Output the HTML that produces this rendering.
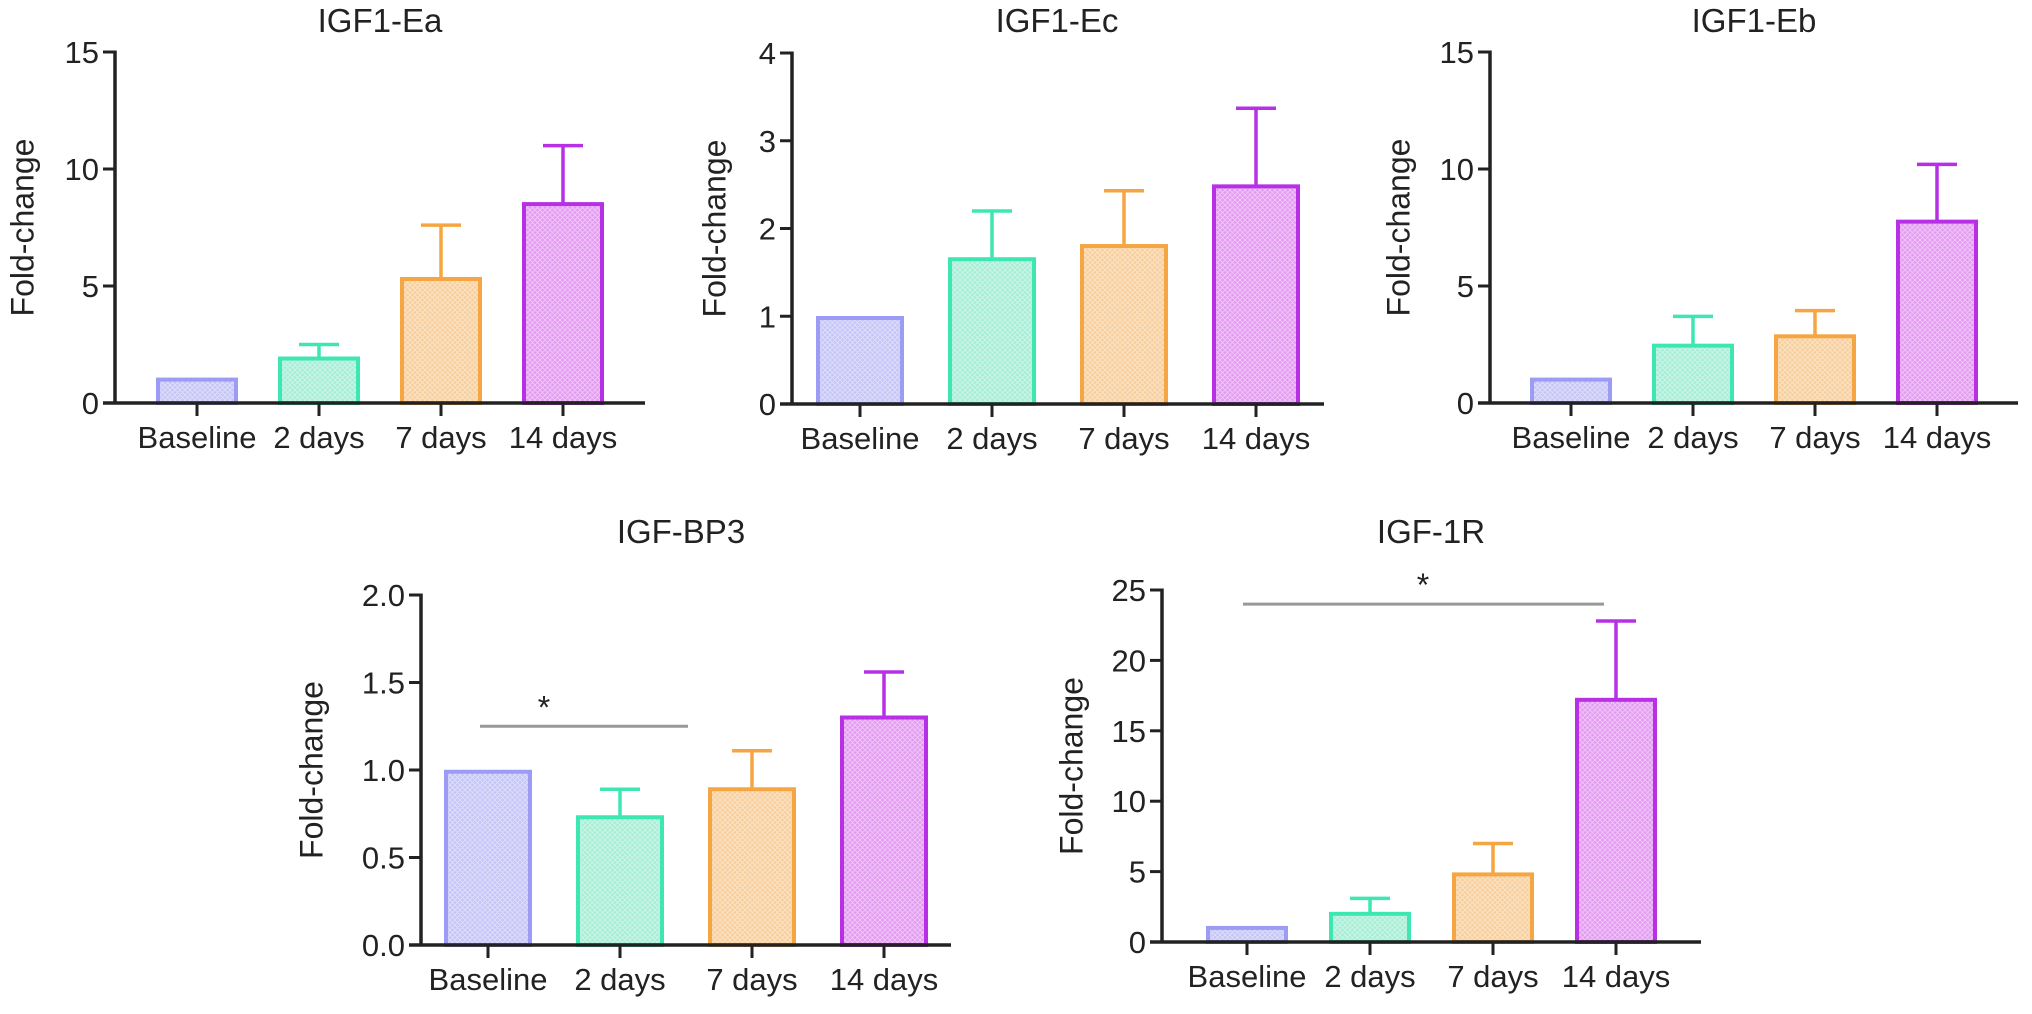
<!DOCTYPE html>
<html><head><meta charset="utf-8">
<style>
html,body{margin:0;padding:0;background:#fff;}
svg{display:block;}
text{font-family:"Liberation Sans",Arial,sans-serif;fill:#222;}
</style></head>
<body>
<svg id="fig" width="2032" height="1014" viewBox="0 0 2032 1014" xmlns="http://www.w3.org/2000/svg">
<defs>
<pattern id="hatch" width="5" height="5" patternUnits="userSpaceOnUse">
<path d="M0 0 L5 5 M5 0 L0 5" stroke="#fff" stroke-width="0.8" stroke-opacity="0.45"/>
</pattern>
</defs>
</svg>
<script>
const categories = ["Baseline","2 days","7 days","14 days"];
const strokeColors = ["#9c9cf4","#3ee6b2","#f5a642","#b730e6"];
const fillColors = ["#c5c6f7","#a6eed5","#f8cf9c","#e39cf1"];

const eaValues = [1.0, 1.9, 5.3, 8.5];
const eaErrTop = [1.0, 2.5, 7.6, 11.0];
const eaTicks = [0,5,10,15];

const ecValues = [0.98, 1.65, 1.8, 2.48];
const ecErrTop = [0.98, 2.2, 2.43, 3.37];
const ecTicks = [0,1,2,3,4];

const ebValues = [1.0, 2.45, 2.85, 7.75];
const ebErrTop = [1.0, 3.7, 3.95, 10.2];
const ebTicks = [0,5,10,15];

const bp3Values = [0.99, 0.73, 0.89, 1.3];
const bp3ErrTop = [0.99, 0.89, 1.11, 1.56];
const bp3Ticks = [0,0.5,1.0,1.5,2.0];
const bp3TickLabels = ["0.0","0.5","1.0","1.5","2.0"];

const r1Values = [1.0, 2.0, 4.8, 17.2];
const r1ErrTop = [1.0, 3.1, 7.0, 22.8];
const r1Ticks = [0,5,10,15,20,25];

const svg = document.getElementById('fig');
const NS = "http://www.w3.org/2000/svg";
function mk(tag, attrs, parent){
  const e = document.createElementNS(NS, tag);
  for (const k in attrs) e.setAttribute(k, attrs[k]);
  (parent||svg).appendChild(e);
  return e;
}

function drawChart(cfg){
  const g = mk('g', {});
  
  
  const ymax = cfg.ticks[cfg.ticks.length-1];
  const yS = v => cfg.y0 - (v/ymax)*(cfg.y0-cfg.yTop);
  const xS = i => cfg.firstC + i*cfg.step;
  const axEnd = xS(categories.length-1) + (cfg.firstC - cfg.ax);

  const t = mk('text', {x: cfg.titleX, y: cfg.titleY, 'text-anchor':'middle', 'font-size':33}, g);
  t.textContent = cfg.title;
  
  

  const yl = mk('text', {x: 0, y: 0, 'text-anchor':'middle', 'font-size':32,
    transform: `translate(${cfg.ylabX},${(cfg.y0+cfg.yTop)/2}) rotate(-90)`, 'dominant-baseline':'middle'}, g);
  yl.textContent = 'Fold-change';
  
  

  categories.forEach((c, i) => {
    const cx = xS(i), v = cfg.values[i], top = yS(v);
    const bw = cfg.bw;
    const bar = mk('rect', {x: cx-bw/2, y: top, width: bw, height: cfg.y0-top,
      fill: fillColors[i], stroke: strokeColors[i], 'stroke-width': 4}, g);
    
    
    mk('rect', {x: cx-bw/2+2, y: top+2, width: Math.max(0,bw-4), height: Math.max(0,cfg.y0-top-4), fill:'url(#hatch)'}, g);
    const et = cfg.err[i];
    if (et > v + 1e-9) {
      const eb = mk('path', {d:`M${cx} ${top} V${yS(et)} M${cx-20} ${yS(et)} H${cx+20}`,
        stroke: strokeColors[i], 'stroke-width': 3.5, fill:'none'}, g);
      
      
    }
    mk('line', {x1:cx, x2:cx, y1:cfg.y0, y2:cfg.y0+13, stroke:'#222', 'stroke-width':3}, g);
    const lb = mk('text', {x: cx, y: cfg.y0+45, 'text-anchor':'middle', 'font-size':31}, g);
    lb.textContent = c;
    
    
  });

  const ya = mk('line', {x1:cfg.ax, x2:cfg.ax, y1:cfg.yTop-1.5, y2:cfg.y0+1.5, stroke:'#222', 'stroke-width':3.5}, g);
  
  
  const xa = mk('line', {x1:cfg.ax-12, x2:axEnd, y1:cfg.y0, y2:cfg.y0, stroke:'#222', 'stroke-width':3.5}, g);
  
  
  cfg.ticks.forEach((tv, k) => {
    const y = yS(tv);
    mk('line', {x1:cfg.ax-12, x2:cfg.ax, y1:y, y2:y, stroke:'#222', 'stroke-width':3}, g);
    const tl = mk('text', {x: cfg.ax-16, y: y+11, 'text-anchor':'end', 'font-size':31}, g);
    tl.textContent = cfg.tickLabels ? cfg.tickLabels[k] : String(tv);
    
    
  });

  if (cfg.sig) {
    const s = cfg.sig;
    const ln = mk('line', {x1:xS(s.from)-s.padL, x2:xS(s.to)-s.padR, y1:yS(s.level), y2:yS(s.level), stroke:'#999', 'stroke-width':3}, g);
    
    
    const st = mk('text', {x: s.starX, y: yS(s.level)-8, 'text-anchor':'middle', 'font-size':32}, g);
    st.textContent = '*';
    
    
  }
}

drawChart({name:'chart-igf1-ea', title:'IGF1-Ea', titleX:380, titleY:32, ylabX:25,
  ax:115, firstC:197, step:122, bw:78, y0:403, yTop:52, ticks:eaTicks, values:eaValues, err:eaErrTop});
drawChart({name:'chart-igf1-ec', title:'IGF1-Ec', titleX:1057, titleY:32, ylabX:717,
  ax:792, firstC:860, step:132, bw:84, y0:404, yTop:53, ticks:ecTicks, values:ecValues, err:ecErrTop});
drawChart({name:'chart-igf1-eb', title:'IGF1-Eb', titleX:1754, titleY:32, ylabX:1401,
  ax:1490, firstC:1571, step:122, bw:78, y0:403, yTop:52, ticks:ebTicks, values:ebValues, err:ebErrTop});
drawChart({name:'chart-igf-bp3', title:'IGF-BP3', titleX:681, titleY:543, ylabX:314,
  ax:421, firstC:488, step:132, bw:84, y0:945, yTop:595, ticks:bp3Ticks, tickLabels:bp3TickLabels,
  values:bp3Values, err:bp3ErrTop, sig:{from:0,to:1,level:1.25,padL:8,padR:-68,starX:544}});
drawChart({name:'chart-igf-1r', title:'IGF-1R', titleX:1431, titleY:543, ylabX:1074,
  ax:1162, firstC:1247, step:123, bw:78, y0:942, yTop:590, ticks:r1Ticks,
  values:r1Values, err:r1ErrTop, sig:{from:0,to:3,level:24,padL:4,padR:12,starX:1423}});
</script>
</body></html>
